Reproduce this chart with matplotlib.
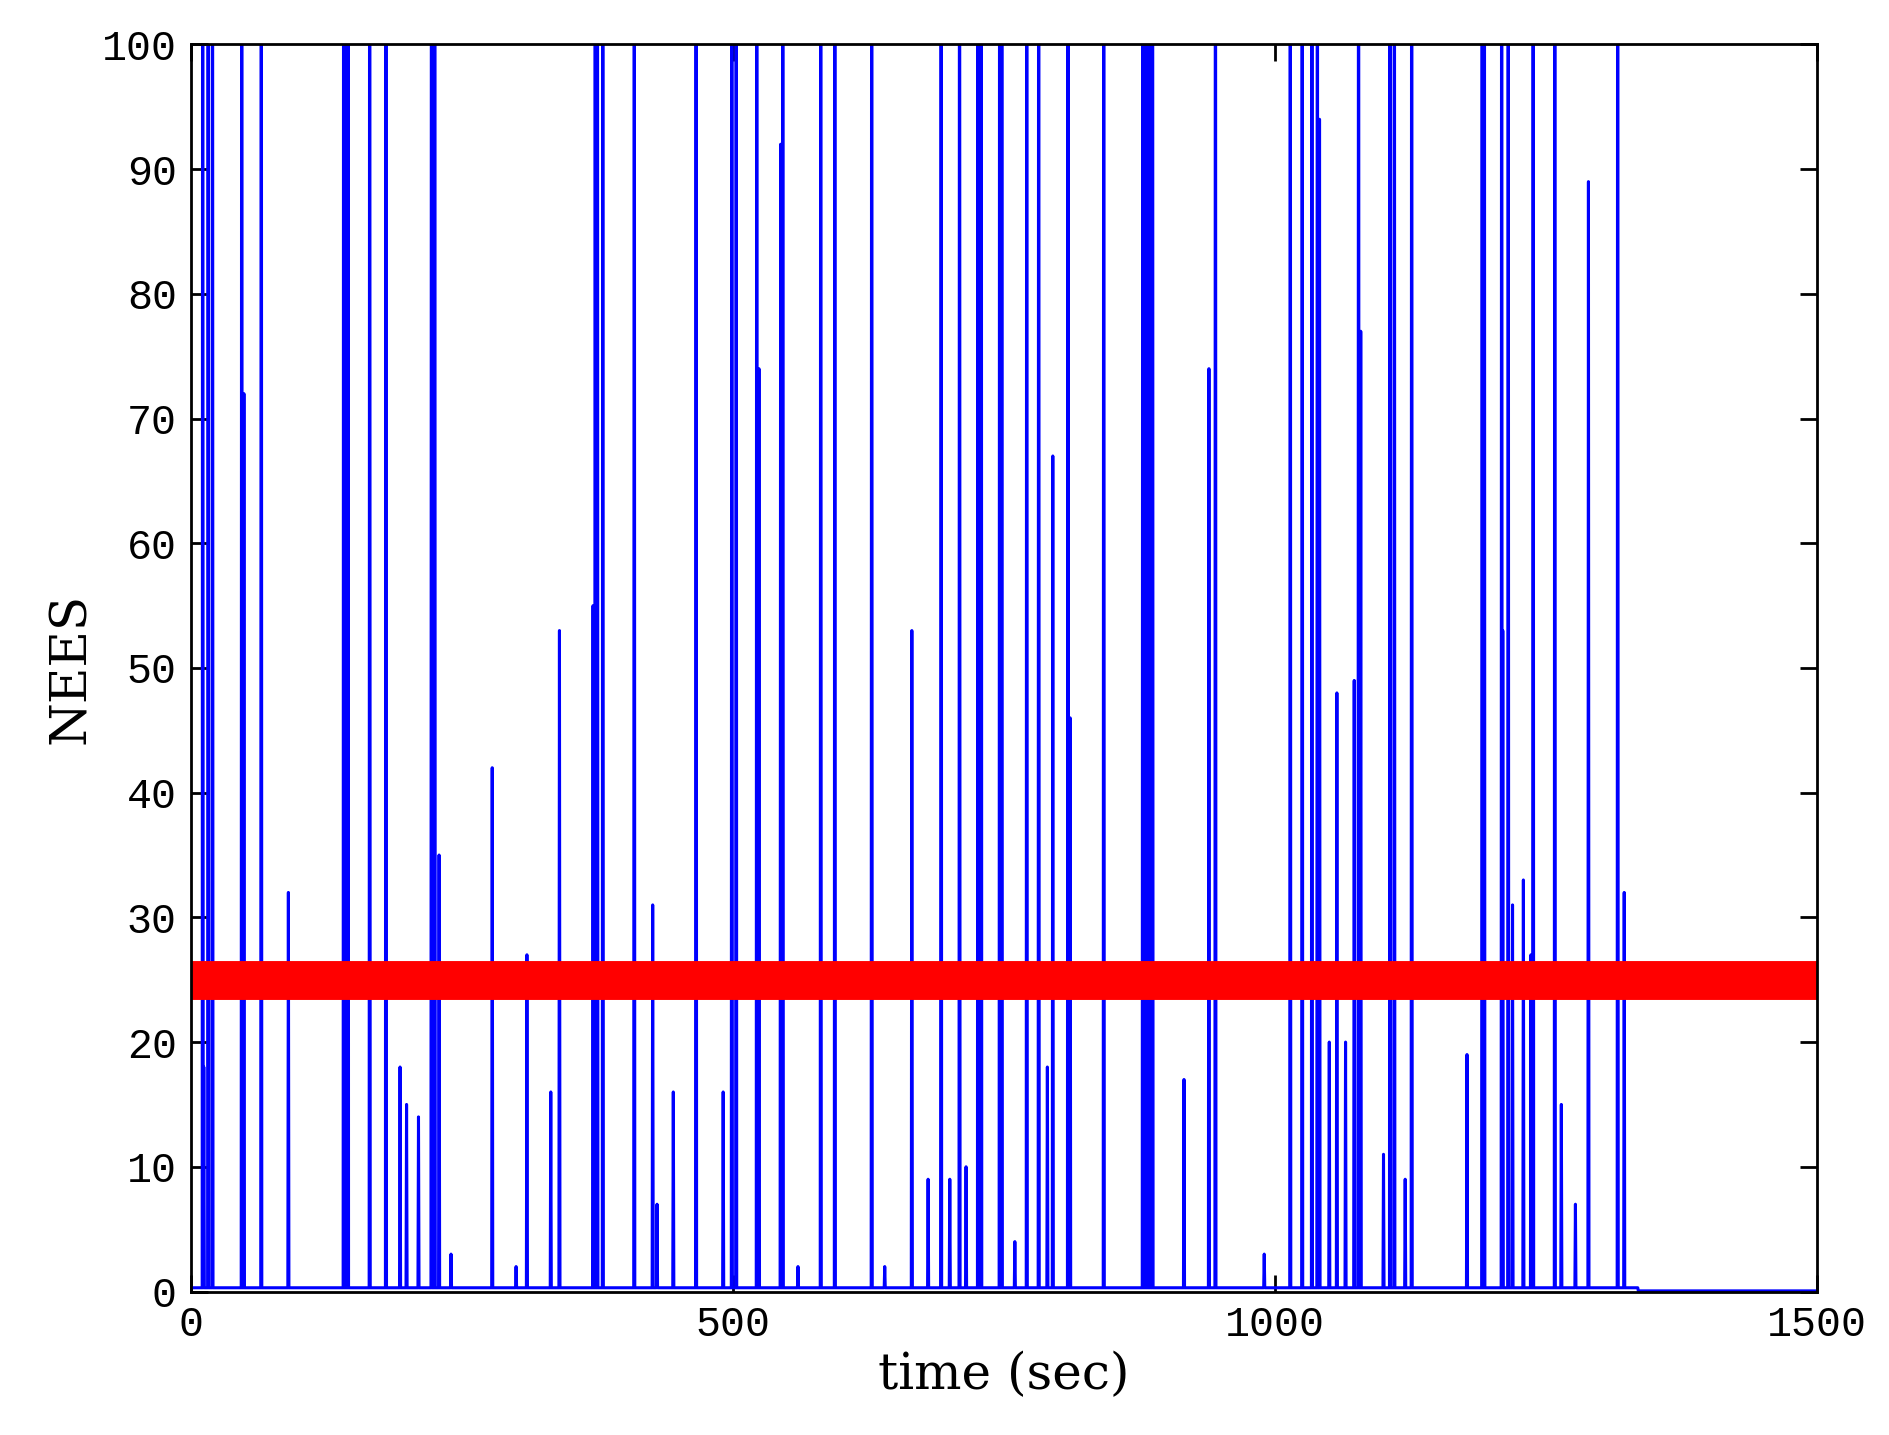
import numpy as np
import matplotlib
matplotlib.use("Agg")
import matplotlib.pyplot as plt

# spikes reaching beyond the top of the axis (time, sec)
tall_times = [11, 16, 20, 47, 65, 141, 143, 145, 165, 180, 222, 225, 373, 375, 380, 409,
              466, 499, 503, 522, 546, 581, 594, 628, 692, 709, 726, 729, 746, 748, 771,
              782, 809, 842, 878, 880, 882, 885, 887, 945, 1014, 1025, 1034, 1039, 1077,
              1106, 1110, 1126, 1191, 1193, 1209, 1215, 1238, 1258, 1316]
tall_values = [150] * len(tall_times)

# medium / small spikes (time, value)
mid_times = [12, 49, 90, 193, 199, 229, 278, 310, 332, 340, 371, 426, 445, 491, 524, 544,
             665, 680, 700, 715, 795, 811, 916, 939, 1041, 1057, 1073, 1079, 1177, 1193,
             1210, 1219, 1229, 1236, 1264, 1277, 1289, 1316, 1322, 210, 240, 300, 430,
             560, 640, 760, 790, 990, 1100, 1120, 1050, 1065]
mid_values = [18, 72, 32, 18, 15, 35, 42, 27, 16, 53, 55, 31, 16, 16, 74, 92,
              53, 9, 9, 10, 67, 46, 17, 74, 94, 48, 49, 77, 19, 37,
              53, 31, 33, 27, 15, 7, 89, 69, 32, 14, 3, 2, 7,
              2, 2, 4, 18, 3, 11, 9, 20, 20]

chi2_bound = 25.0
t_end = 1500
active_end = 1335

dt = 0.5
t = np.arange(0, t_end + dt, dt)
y = np.where(t < active_end, 0.3, 0.05)
for tt, v in zip(tall_times + mid_times, tall_values + mid_values):
    i = int(round(tt / dt))
    y[i] = max(y[i], v)

plt.rcParams['mathtext.fontset'] = 'cm'
fig = plt.figure(figsize=(18.89, 14.35), dpi=100)
ax = fig.add_axes([0.101, 0.100, 0.861, 0.869])
ax.plot(t, y, color='#0000ff', lw=2.2)
ax.plot([0, t_end], [chi2_bound, chi2_bound], color='#ff0000', lw=28, solid_capstyle='butt')
ax.set_xlim(0, 1500)
ax.set_ylim(0, 100)
ax.set_xticks([0, 500, 1000, 1500])
ax.set_yticks(range(0, 101, 10))
ax.tick_params(direction='in', top=True, right=True, length=12, width=2, labelsize=30, pad=10)
for lab in ax.get_xticklabels() + ax.get_yticklabels():
    lab.set_family('Liberation Mono')
for s in ax.spines.values():
    s.set_linewidth(2)
ax.set_xlabel('time (sec)', fontsize=36, family='DejaVu Serif')
ax.set_ylabel('NEES', fontsize=36, family='DejaVu Serif')
fig.savefig('out.png', dpi=100)
